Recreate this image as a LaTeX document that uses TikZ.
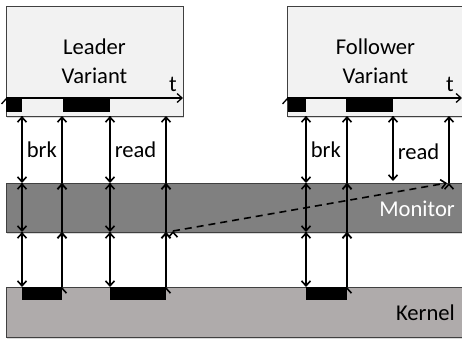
\documentclass[tikz,border=0pt]{standalone}
\usepackage{fontspec}
\setsansfont{Carlito}
\usetikzlibrary{arrows.meta,shadows}
\begin{document}
\begin{tikzpicture}[x=1pt,y=-1pt,font=\sffamily\fontsize{22.6}{29}\selectfont]

\definecolor{variant_fill}{RGB}{242,242,242}
\definecolor{monitor_fill}{RGB}{128,128,128}
\definecolor{kernel_fill}{RGB}{175,171,171}
\definecolor{layer_draw}{RGB}{64,64,64}
\tikzstyle{layer_style}=[rectangle,draw=layer_draw,line width=0.8pt,inner sep=0pt,drop shadow={shadow xshift=1pt,shadow yshift=-1.5pt,opacity=0.3}]

\definecolor{call_edge_draw}{RGB}{0,0,0}
\tikzstyle{call_edge_style}=[draw=call_edge_draw,line width=1.6pt,-{Straight Barb[length=5pt,width=9pt]}]
\tikzstyle{time_edge_style}=[draw=call_edge_draw,line width=1.3pt,-{Straight Barb[length=5pt,width=9pt]}]
\tikzstyle{dash_edge_style}=[call_edge_style,dash pattern=on 7pt off 5pt]

\clip (0,0) rectangle (462,341);

\node(leader) at (94.5,61) [layer_style,fill=variant_fill,minimum width=177,minimum height=110,align=center] {Leader\\Variant};

\node(follower) at (375.5,61) [layer_style,fill=variant_fill,minimum width=177,minimum height=110,align=center] {Follower\\Variant};

\node(monitor) at (235.5,207.5) [layer_style,fill=monitor_fill,minimum width=459,minimum height=49] {};

\node(kernel) at (235.5,312) [layer_style,fill=kernel_fill,minimum width=459,minimum height=50] {};

\node(monitor_label) at (455,209) [anchor=east,text=white,inner sep=0pt] {Monitor};
\node(kernel_label) at (455,313) [anchor=east,inner sep=0pt] {Kernel};

% time lines
\fill (6,98) rectangle (22,112);
\fill (63,98) rectangle (110,112);
\fill (288,98) rectangle (306,112);
\fill (346,98) rectangle (393,112);
\fill (22,287) rectangle (62,300);
\fill (110,287) rectangle (166,300);
\fill (306,287) rectangle (347,300);

\coordinate(lt_start) at (6,98);
\coordinate(lt_end) at (183,98);
\coordinate(ft_start) at (287,98);
\coordinate(ft_end) at (462,98);
\draw[time_edge_style](lt_start) edge (lt_end);
\draw[time_edge_style](ft_start) edge (ft_end);
\node(lt_label) at (173,84) [inner sep=0pt] {t};
\node(ft_label) at (450,84) [inner sep=0pt] {t};

% leader calls
\coordinate(l1_box) at (22,116);
\coordinate(l1_mtop) at (22,183);
\coordinate(l1_mbot) at (22,232);
\coordinate(l1_ktop) at (22,287);
\coordinate(l2_box) at (62,116);
\coordinate(l2_mtop) at (62,183);
\coordinate(l2_mbot) at (62,232);
\coordinate(l2_ktop) at (62,287);
\coordinate(l3_box) at (110,116);
\coordinate(l3_mtop) at (110,183);
\coordinate(l3_mbot) at (110,232);
\coordinate(l3_ktop) at (110,287);
\coordinate(l4_box) at (166,116);
\coordinate(l4_mtop) at (166,183);
\coordinate(l4_mbot) at (166,232);
\coordinate(l4_ktop) at (166,287);

% follower calls
\coordinate(f1_box) at (306,116);
\coordinate(f1_mtop) at (306,183);
\coordinate(f1_mbot) at (306,232);
\coordinate(f1_ktop) at (306,287);
\coordinate(f2_box) at (347,116);
\coordinate(f2_mtop) at (347,183);
\coordinate(f2_mbot) at (347,232);
\coordinate(f2_ktop) at (347,287);
\coordinate(f3_box) at (393,116);
\coordinate(f3_mtop) at (393,181);
\coordinate(f4_box) at (449,116);
\coordinate(f4_mtop) at (449,183);

\draw[call_edge_style](l1_box) edge node[right,inner sep=4pt] {brk} (l1_mtop);
\draw[call_edge_style](l1_mtop) edge (l1_mbot);
\draw[call_edge_style](l1_mbot) edge (l1_ktop);
\draw[call_edge_style](l2_ktop) edge (l2_mbot);
\draw[call_edge_style](l2_mbot) edge (l2_mtop);
\draw[call_edge_style](l2_mtop) edge (l2_box);
\draw[call_edge_style](l3_box) edge node[right,inner sep=4pt] {read} (l3_mtop);
\draw[call_edge_style](l3_mtop) edge (l3_mbot);
\draw[call_edge_style](l3_mbot) edge (l3_ktop);
\draw[call_edge_style](l4_ktop) edge (l4_mbot);
\draw[call_edge_style](l4_mbot) edge (l4_mtop);
\draw[call_edge_style](l4_mtop) edge (l4_box);

\draw[call_edge_style](f1_box) edge node[right,inner sep=4pt] {brk} (f1_mtop);
\draw[call_edge_style](f1_mtop) edge (f1_mbot);
\draw[call_edge_style](f1_mbot) edge (f1_ktop);
\draw[call_edge_style](f2_ktop) edge (f2_mbot);
\draw[call_edge_style](f2_mbot) edge (f2_mtop);
\draw[call_edge_style](f2_mtop) edge (f2_box);
\draw[call_edge_style](f3_box) edge node[right,inner sep=4pt,pos=0.55] {read} (f3_mtop);
\draw[call_edge_style](f4_mtop) edge (f4_box);

% result handed over
\coordinate(dash_start) at (173,231);
\coordinate(dash_end) at (447,183);
\draw[dash_edge_style](dash_start) edge (dash_end);

\end{tikzpicture}
\end{document}
